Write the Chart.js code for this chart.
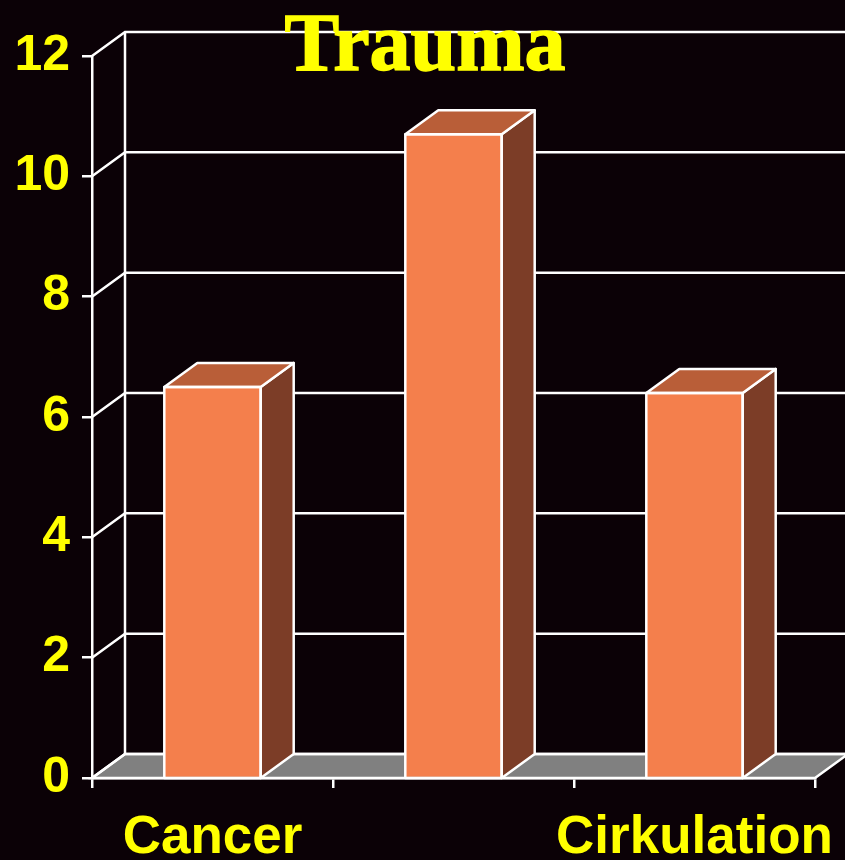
<!DOCTYPE html>
<html>
<head>
<meta charset="utf-8">
<title>Trauma</title>
<script src="https://cdn.jsdelivr.net/npm/chart.js@4.4.1/dist/chart.umd.min.js"></script>
<style>
  html, body { margin: 0; padding: 0; background: #0b0106; }
  #chart { display: block; }
</style>
</head>
<body>
<canvas id="chart" width="845" height="860"></canvas>
<script>
const categories = ['Cancer', 'Trauma', 'Cirkulation'];
const values = [6.5, 10.7, 6.4];
const yTicks = [0, 2, 4, 6, 8, 10, 12];

const DX = 33, DY = 24; // 3d depth offset
const FRONT = '#f47f4c', TOP = '#b95e38', SIDE = '#7c3d27';
const LINE = 2.5;

const depth3d = {
  id: 'depth3d',
  beforeDatasetsDraw(chart) {
    const { ctx, chartArea: a, scales: { y } } = chart;
    const base = y.getPixelForValue(0);
    ctx.save();
    // floor
    ctx.beginPath();
    ctx.moveTo(a.left, base);
    ctx.lineTo(a.right, base);
    ctx.lineTo(a.right + DX, base - DY);
    ctx.lineTo(a.left + DX, base - DY);
    ctx.closePath();
    ctx.fillStyle = '#808080';
    ctx.fill();
    ctx.strokeStyle = '#ffffff';
    ctx.lineWidth = LINE;
    ctx.stroke();
    // back wall grid + left wall diagonals
    yTicks.forEach(v => {
      const py = y.getPixelForValue(v);
      ctx.beginPath();
      ctx.moveTo(a.left, py);
      ctx.lineTo(a.left + DX, py - DY);
      ctx.lineTo(a.right + DX, py - DY);
      ctx.stroke();
    });
    ctx.beginPath();
    ctx.moveTo(a.left + DX, y.getPixelForValue(12) - DY);
    ctx.lineTo(a.left + DX, base - DY);
    ctx.stroke();
    ctx.restore();
  },
  afterDatasetsDraw(chart) {
    const { ctx, scales: { y } } = chart;
    const base = y.getPixelForValue(0);
    ctx.save();
    ctx.strokeStyle = '#ffffff';
    ctx.lineWidth = LINE;
    ctx.lineJoin = 'round';
    chart.getDatasetMeta(0).data.forEach(bar => {
      const x0 = bar.x - bar.width / 2, x1 = bar.x + bar.width / 2, t = bar.y;
      // side
      ctx.beginPath();
      ctx.moveTo(x1, t);
      ctx.lineTo(x1 + DX, t - DY);
      ctx.lineTo(x1 + DX, base - DY);
      ctx.lineTo(x1, base);
      ctx.closePath();
      ctx.fillStyle = SIDE;
      ctx.fill();
      ctx.stroke();
      // top
      ctx.beginPath();
      ctx.moveTo(x0, t);
      ctx.lineTo(x1, t);
      ctx.lineTo(x1 + DX, t - DY);
      ctx.lineTo(x0 + DX, t - DY);
      ctx.closePath();
      ctx.fillStyle = TOP;
      ctx.fill();
      ctx.stroke();
      // front outline
      ctx.strokeRect(x0, t, x1 - x0, base - t);
    });
    ctx.restore();
  },
  afterDraw(chart) {
    const { ctx } = chart;
    ctx.save();
    ctx.fillStyle = '#ffff00';
    ctx.strokeStyle = '#ffff00';
    ctx.lineWidth = 1.5;
    ctx.font = 'bold 82px "Liberation Serif", "DejaVu Serif", serif';
    ctx.textAlign = 'center';
    ctx.textBaseline = 'alphabetic';
    ctx.fillText('Trauma', 425, 70);
    ctx.strokeText('Trauma', 425, 70);
    ctx.restore();
  }
};

new Chart(document.getElementById('chart'), {
  type: 'bar',
  data: {
    labels: categories,
    datasets: [{
      data: values,
      backgroundColor: FRONT,
      borderColor: '#ffffff',
      borderWidth: 0,
      barPercentage: 0.4,
      categoryPercentage: 1.0
    }]
  },
  options: {
    responsive: false,
    animation: false,
    layout: { padding: { top: 56, right: 30, left: 0, bottom: 0 } },
    plugins: { legend: { display: false }, tooltip: { enabled: false } },
    scales: {
      x: {
        offset: true,
        grid: { offset: true, drawOnChartArea: false, drawTicks: true, tickLength: 10, color: '#ffffff', lineWidth: LINE },
        border: { display: true, color: '#ffffff', width: LINE },
        ticks: {
          color: '#ffff00',
          font: { family: '"Liberation Sans", Arial, sans-serif', size: 53, weight: 'bold' },
          padding: 19,
          maxRotation: 0,
          minRotation: 0,
          autoSkip: false,
          // the long labels do not fit side by side, so every second one is left out
          callback: (v, i) => (i % 2 ? '' : categories[i])
        },
        afterFit(scale) {
          scale.height = 82;
          scale.paddingLeft = 0;
          scale.paddingRight = 0;
        }
      },
      y: {
        min: 0,
        max: 12,
        afterBuildTicks(scale) { scale.ticks = yTicks.map(v => ({ value: v })); },
        grid: { drawOnChartArea: false, drawTicks: true, tickLength: 10, color: '#ffffff', lineWidth: LINE },
        border: { display: true, color: '#ffffff', width: LINE },
        ticks: {
          color: '#ffff00',
          font: { family: '"Liberation Sans", Arial, sans-serif', size: 50, weight: 'bold' },
          padding: 12
        },
        afterFit(scale) { scale.width = 92; }
      }
    }
  },
  plugins: [depth3d]
});
</script>
</body>
</html>
